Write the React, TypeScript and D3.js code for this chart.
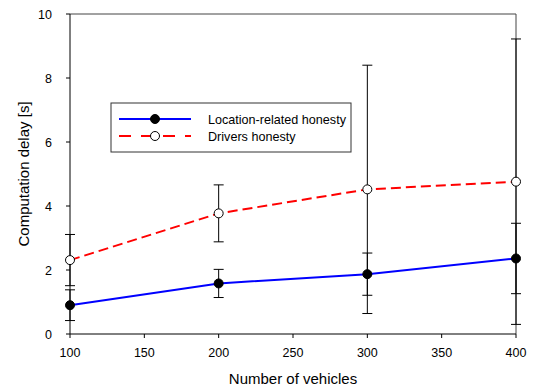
import * as d3 from 'd3';

const vehicles = [100, 200, 300, 400];
const locationMean = [0.9, 1.58, 1.87, 2.36];
const locationErr = [0.48, 0.44, 0.66, 1.1];
const driversMean = [2.31, 3.77, 4.52, 4.76];
const driversErr = [0.8, 0.89, 3.88, 4.46];
const xTicks = [100, 150, 200, 250, 300, 350, 400];
const yTicks = [0, 2, 4, 6, 8, 10];

const W = 539;
const H = 392;
const font = '"Liberation Sans", Arial, sans-serif';

export default function App() {
  const x = d3.scaleLinear().domain([100, 400]).range([70, 516]);
  const y = d3.scaleLinear().domain([0, 10]).range([334, 14]);

  const line = d3
    .line<number>()
    .x((_, i) => x(vehicles[i]))
    .y((d) => y(d));

  const series = [
    { name: 'Location-related honesty', mean: locationMean, err: locationErr, color: '#0000ff', dash: undefined, fill: '#000' },
    { name: 'Drivers honesty', mean: driversMean, err: driversErr, color: '#ff0000', dash: '10 5', fill: '#fff' },
  ];

  const [x0, x1] = x.range();
  const [yb, yt] = y.range();

  return (
    <div style={{ position: 'fixed', left: 0, top: 0 }}>
      <svg width={W} height={H} style={{ display: 'block', background: '#fff' }}>
        {/* frame */}
        <line x1={x0} x2={x1} y1={yt} y2={yt} stroke="#444" strokeWidth={1} />
        <line x1={x1} x2={x1} y1={yt} y2={yb} stroke="#444" strokeWidth={1} />

        {/* error bars */}
        {series.map((s) =>
          s.mean.map((m, i) => {
            const cx = x(vehicles[i]);
            const hi = y(m + s.err[i]);
            const lo = y(Math.max(0, m - s.err[i]));
            return (
              <g key={s.name + i} stroke="#000" strokeWidth={1}>
                <line x1={cx} x2={cx} y1={hi} y2={lo} />
                <line x1={cx - 5} x2={cx + 5} y1={hi} y2={hi} />
                <line x1={cx - 5} x2={cx + 5} y1={lo} y2={lo} />
              </g>
            );
          })
        )}

        {/* axes */}
        <line x1={x0} x2={x1} y1={yb} y2={yb} stroke="#000" />
        <line x1={x0} x2={x0} y1={yt} y2={yb} stroke="#000" />
        {xTicks.map((t) => (
          <g key={'x' + t}>
            <line x1={x(t)} x2={x(t)} y1={yb} y2={yb + 4} stroke="#000" />
            <text x={x(t)} y={357} textAnchor="middle" fontFamily={font} fontSize={12.5}>
              {t}
            </text>
          </g>
        ))}
        {yTicks.map((t) => (
          <g key={'y' + t}>
            <line x1={x0 - 4} x2={x0} y1={y(t)} y2={y(t)} stroke="#000" />
            <text x={52} y={y(t) + 4.5} textAnchor="end" fontFamily={font} fontSize={12.5}>
              {t}
            </text>
          </g>
        ))}
        <text x={(x0 + x1) / 2} y={384} textAnchor="middle" fontFamily={font} fontSize={15}>
          Number of vehicles
        </text>
        <text
          transform={`translate(29,${(yt + yb) / 2}) rotate(-90)`}
          textAnchor="middle"
          fontFamily={font}
          fontSize={15}
        >
          Computation delay [s]
        </text>

        {/* lines */}
        {series.map((s) => (
          <path key={'l' + s.name} d={line(s.mean) || ''} fill="none" stroke={s.color} strokeWidth={2} strokeDasharray={s.dash} />
        ))}
        {/* markers */}
        {series.map((s) =>
          s.mean.map((m, i) => (
            <circle key={'m' + s.name + i} cx={x(vehicles[i])} cy={y(m)} r={4.5} fill={s.fill} stroke="#000" strokeWidth={1} />
          ))
        )}

        {/* legend */}
        <rect x={111} y={103} width={240} height={49} fill="#fff" stroke="#333" strokeWidth={1} />
        {series.map((s, i) => {
          const ly = 119 + i * 17;
          return (
            <g key={'lg' + s.name}>
              <line x1={119} x2={191} y1={ly} y2={ly} stroke={s.color} strokeWidth={2} strokeDasharray={s.dash ? '12 10' : undefined} />
              <circle cx={155} cy={ly} r={4.5} fill={s.fill} stroke="#000" strokeWidth={1} />
              <text x={208} y={ly + 4.5} fontFamily={font} fontSize={12.6}>
                {s.name}
              </text>
            </g>
          );
        })}
      </svg>
    </div>
  );
}
